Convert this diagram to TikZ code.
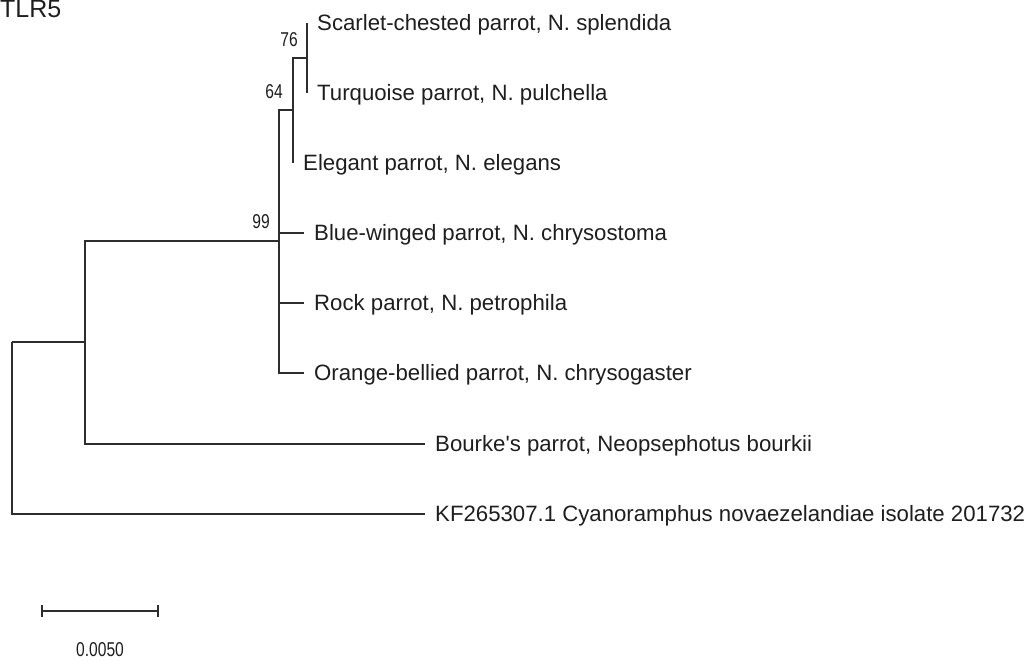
\documentclass[tikz,border=0pt]{standalone}
\usepackage{fontspec}
\setmainfont{Liberation Sans}
\usetikzlibrary{positioning}
\definecolor{treeGray}{RGB}{45, 45, 45}
\definecolor{labelGray}{RGB}{30, 30, 30}
\newcommand{\bootval}[1]{\scalebox{0.78}[1]{#1}}

\begin{document}
\begin{tikzpicture}[
    x=1pt, y=-1pt,
    branch/.style={draw=treeGray, line width=1.4pt},
    taxon/.style={inner sep=0pt, text=labelGray, font=\fontsize{22.2}{26}\selectfont},
    boot/.style={inner sep=0pt, text=labelGray, font=\fontsize{20}{24}\selectfont},
  ]
    \useasboundingbox (0,0) rectangle (1034,661);

    % Title
    \node[anchor=base west, inner sep=0pt, text=labelGray, font=\fontsize{25}{30}\selectfont]
      (title) at (0,18) {TLR5};

    % Internal nodes
    \coordinate (root) at (12,342);
    \coordinate (nNeo) at (85,342);
    \coordinate (n99) at (279,241);
    \coordinate (n64) at (293,110);
    \coordinate (n76) at (307,58);

    % Tips
    \coordinate (tScarlet) at (307,23);
    \coordinate (tTurq) at (307,93);
    \coordinate (tElegant) at (293,163);
    \coordinate (tBlue) at (304,233);
    \coordinate (tRock) at (304,303);
    \coordinate (tOrange) at (304,373);
    \coordinate (tBourke) at (425,444);
    \coordinate (tKF) at (425,514);

    % Branches
    \foreach \a/\b in {root/nNeo, root/tKF, nNeo/n99, nNeo/tBourke, n99/n64, n99/tBlue,
                       n99/tRock, n99/tOrange, n64/n76, n64/tElegant, n76/tScarlet, n76/tTurq} {
      \draw[branch] (\a) |- (\b);
    }

    % Taxon labels
    \foreach \tip/\name in {tScarlet/{Scarlet-chested parrot, N. splendida},
                            tTurq/{Turquoise parrot, N. pulchella},
                            tElegant/{Elegant parrot, N. elegans},
                            tBlue/{Blue-winged parrot, N. chrysostoma},
                            tRock/{Rock parrot, N. petrophila},
                            tOrange/{Orange-bellied parrot, N. chrysogaster},
                            tBourke/{Bourke\textquotesingle s parrot, Neopsephotus bourkii},
                            tKF/{KF265307.1 Cyanoramphus novaezelandiae isolate 201732}} {
      \node[taxon, right=10pt of \tip, anchor=base west, yshift=-7.9pt] (L\tip) {\name};
    }

    % Bootstrap values
    \node[boot, above left=11pt and 9pt of n76] (b76) {\bootval{76}};
    \node[boot, above left=11pt and 10pt of n64] (b64) {\bootval{64}};
    \node[boot, above left=12pt and 9pt of n99] (b99) {\bootval{99}};

    % Scale bar
    \coordinate (sbL) at (42,611);
    \coordinate (sbR) at (158,611);
    \draw[branch] (sbL) -- (sbR);
    \draw[branch] ([yshift=6pt]sbL) -- ([yshift=-6pt]sbL);
    \draw[branch] ([yshift=6pt]sbR) -- ([yshift=-6pt]sbR);
    \node[boot] (sbText) at (100,650) {\bootval{0.0050}};
  \end{tikzpicture}
\end{document}
